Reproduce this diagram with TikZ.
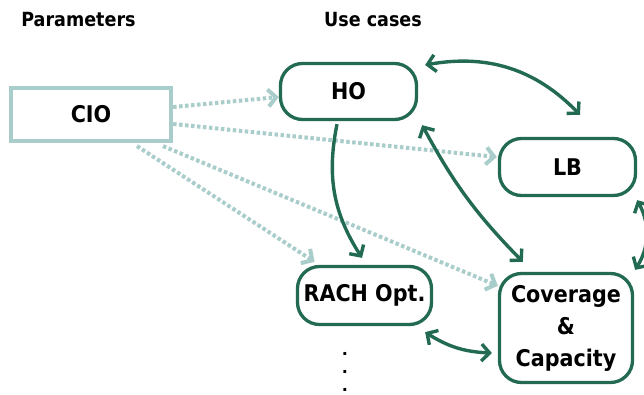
\documentclass[tikz,border=0pt]{standalone}
\usepackage{fontspec}
\setmainfont{DejaVu Sans Condensed}
\newfontfamily\dotfont{DejaVu Sans}
\usetikzlibrary{arrows.meta,calc}
\definecolor{dgreen}{HTML}{226B52}
\definecolor{lteal}{HTML}{A9CDCB}
\tikzset{
  box/.style={draw=dgreen,line width=3.3pt,rounded corners=22pt,fill=white,font=\fontsize{23}{30}\selectfont\bfseries,inner sep=0pt,align=center},
  parbox/.style={draw=lteal,line width=3.7pt,fill=white,font=\fontsize{23}{30}\selectfont\bfseries,inner sep=0pt},
  head/.style={font=\fontsize{19.5}{24}\selectfont\bfseries},
  dotmark/.style={font=\dotfont\fontsize{16}{16}\selectfont\bfseries,inner sep=0pt,anchor=base,text height=3pt,text depth=0pt},
  link/.style={draw=dgreen,line width=3.4pt,{Straight Barb[length=8pt,width=17pt]}-{Straight Barb[length=8pt,width=17pt]}},
  onelink/.style={draw=dgreen,line width=3.4pt,-{Straight Barb[length=8pt,width=17pt]}},
  dotlink/.style={draw=lteal,line width=4pt,dash pattern=on 3.5pt off 2.5pt,-{Straight Barb[length=8pt,width=17pt]}}
}
\begin{document}
\begin{tikzpicture}[x=1pt,y=-1pt]
\useasboundingbox (0,0) rectangle (644,395);
\node[head] (hpar) at (78.5,20) {Parameters};
\node[head] (huse) at (373,20) {Use cases};
\node[parbox,minimum width=160.5pt,minimum height=53.5pt] (CIO) at (91,114.5) {CIO};
\node[box,minimum width=136pt,minimum height=56pt] (HO) at (348.5,91.5) {HO};
\node[box,minimum width=136pt,minimum height=57pt] (LB) at (567.5,167) {LB};
\node[box,minimum width=134pt,minimum height=58pt] (RACH) at (364.5,295.5) {RACH Opt.};
\node[box,minimum width=133pt,minimum height=109pt] (CC) at (566,328) {Coverage\\[2pt]\&\\[2pt]Capacity};
\node[dotmark] (dot1) at (345,355) {.};
\node[dotmark] (dot2) at (345,373.5) {.};
\node[dotmark] (dot3) at (345,391) {.};
% dotted parameter links
\draw[dotlink] ([yshift=7.5pt]CIO.east) -- ([yshift=-5.5pt]HO.west);
\draw[dotlink] ([yshift=-9.5pt]CIO.east) -- ([xshift=-1pt,yshift=10pt]LB.west);
\draw[dotlink] ([xshift=46pt,yshift=-3pt]CIO.south) -- ([xshift=-50pt,yshift=3pt]RACH.north);
\draw[dotlink] ([xshift=72pt,yshift=-3pt]CIO.south) -- ([yshift=-14pt]CC.north west);
% use case links
\draw[link] ([shift={(7pt,26.5pt)}]HO.east) to[bend left=28] ([shift={(12.5pt,22pt)}]LB.north);
\draw[onelink] ([shift={(-11.5pt,-3pt)}]HO.south) to[bend right=22] ([shift={(-2.5pt,7pt)}]RACH.north);
\draw[link] ([shift={(4pt,-4pt)}]HO.south east) to[bend right=8] ([shift={(25pt,10pt)}]CC.north west);
\draw[link] ([yshift=-3pt]LB.south east) to[bend left=30] ([shift={(1pt,2pt)}]CC.north east);
\draw[link] ([shift={(-8pt,-6pt)}]RACH.south east) to[bend right=15] ([shift={(-6pt,-25pt)}]CC.west);
\end{tikzpicture}
\end{document}
